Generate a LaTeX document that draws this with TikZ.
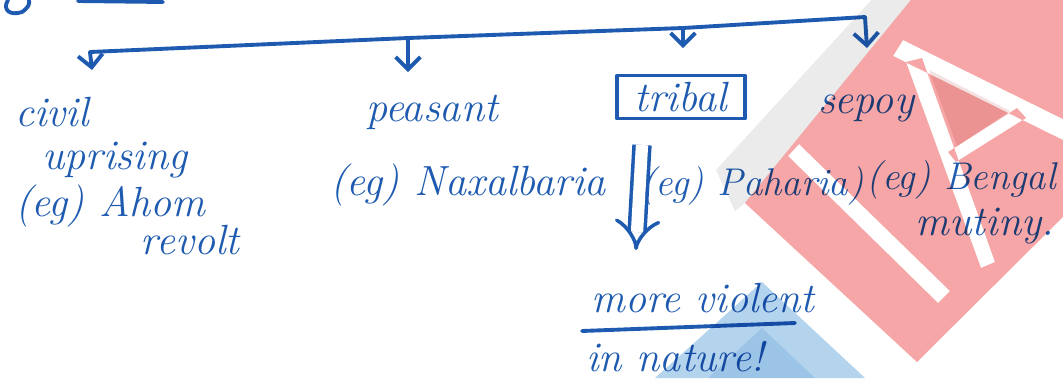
\documentclass[tikz,border=0pt]{standalone}
\usetikzlibrary{arrows.meta,positioning,calc}
\usepackage{xcolor}
\definecolor{ink}{HTML}{1E5BB0}
\definecolor{markred}{HTML}{F6A6A6}
\definecolor{markdark}{HTML}{F4E2E2}
\definecolor{markblue}{HTML}{B4D4EE}
\definecolor{markgray}{HTML}{EBEBEB}

\begin{document}
\begin{tikzpicture}[
  x=0.01cm, y=-0.01cm,
  font=\fontsize{12}{14}\selectfont\itshape,
  note/.style={text=ink, inner sep=1pt},
  snote/.style={note, font=\fontsize{11}{13}\selectfont\itshape},
  pen/.style={draw=ink, line width=1.1pt, line cap=round, line join=round},
  branch/.style={pen, -{Straight Barb[length=3.5pt,width=7pt]}},
  >=Stealth
]

\useasboundingbox (0,0) rectangle (1063,378);
\fill[white] (0,0) rectangle (1063,378);

% bits of the line above, cut off by the page edge
\draw[pen] (8,0) .. controls (2,10) and (10,16) .. (22,12) .. controls (28,8) and (30,4) .. (29,0);
\draw[pen] (78,1) -- (163,2);

% the tree
\coordinate (j1) at (90,52);
\coordinate (j2) at (408,38);
\coordinate (j3) at (683,28);
\coordinate (j4) at (865,17);
\coordinate (a1) at (92,70);
\coordinate (a2) at (408,72);
\coordinate (a3) at (683,48);
\coordinate (a4) at (867,48);

\draw[pen] (j1) -- (j2) -- (j3) -- (j4);
\draw[branch] (j1) -- (a1);
\draw[branch] (j2) -- (a2);
\draw[branch] (j3) -- (a3);
\draw[branch] (j4) -- (a4);

% double arrow down from tribal
\coordinate (d1) at (642,145);
\coordinate (d2) at (636,250);
\draw[draw=ink, line width=1pt, double=white, double distance=3.5pt, -{Implies}] (d1) -- (d2);

\node[note] (civil) at (52,112) {civil};
\node[note] (uprising) at (115,160) {uprising};
\node[note] (ahom) at (110,206) {(eg) Ahom};
\node[note] (revolt) at (190,240) {revolt};

\node[note] (peasant) at (432,112) {peasant};
\node[note] (naxal) at (468,185) {(eg) Naxalbaria};

\node[note, pen, minimum width=1.28cm, minimum height=0.43cm] (tribal) at (681,97) {tribal};
\node[snote] (paharia) at (752,186) {(eg) Paharia)};

\node[note] (sepoy) at (866,108) {sepoy};
\node[snote, anchor=east] (bengal) at (1060,180) {(eg) Bengal};
\node[note] (mutiny) at (985,226) {mutiny.};

\node[note] (violent) at (703,298) {more violent};
\node[note] (nature) at (675,357) {in nature!};
\coordinate (u1) at (582,331);
\coordinate (u2) at (795,323);
\draw[pen] (u1) -- (u2);

% stamp printed over the page
\begin{scope}[blend mode=multiply]
\fill[markgray] (716,170) -- (876,-5) -- (915,-5) -- (745,203) -- (735,211) -- cycle;
\fill[markred, even odd rule]
  (745,203) -- (917,362) -- (1075,205) -- (1075,-5) -- (915,-5) -- cycle
  (788,156) -- (799,144) -- (950,291) -- (938,303) -- cycle
  (893,56) -- (903,40) -- (1075,125) -- (1075,146) -- cycle
  (906,62) -- (922,58) -- (995,262) -- (981,268) -- cycle
  (948,152) -- (1017,108) -- (1026,118) -- (956,162) -- cycle;
\fill[markdark] (929,70) -- (1010,111) -- (957,146) -- cycle;
\fill[markblue] (655,378) -- (762,282) -- (865,378) -- cycle;
\fill[markblue!45] (708,378) -- (762,328) -- (815,378) -- cycle;
\end{scope}

\end{tikzpicture}
\end{document}
